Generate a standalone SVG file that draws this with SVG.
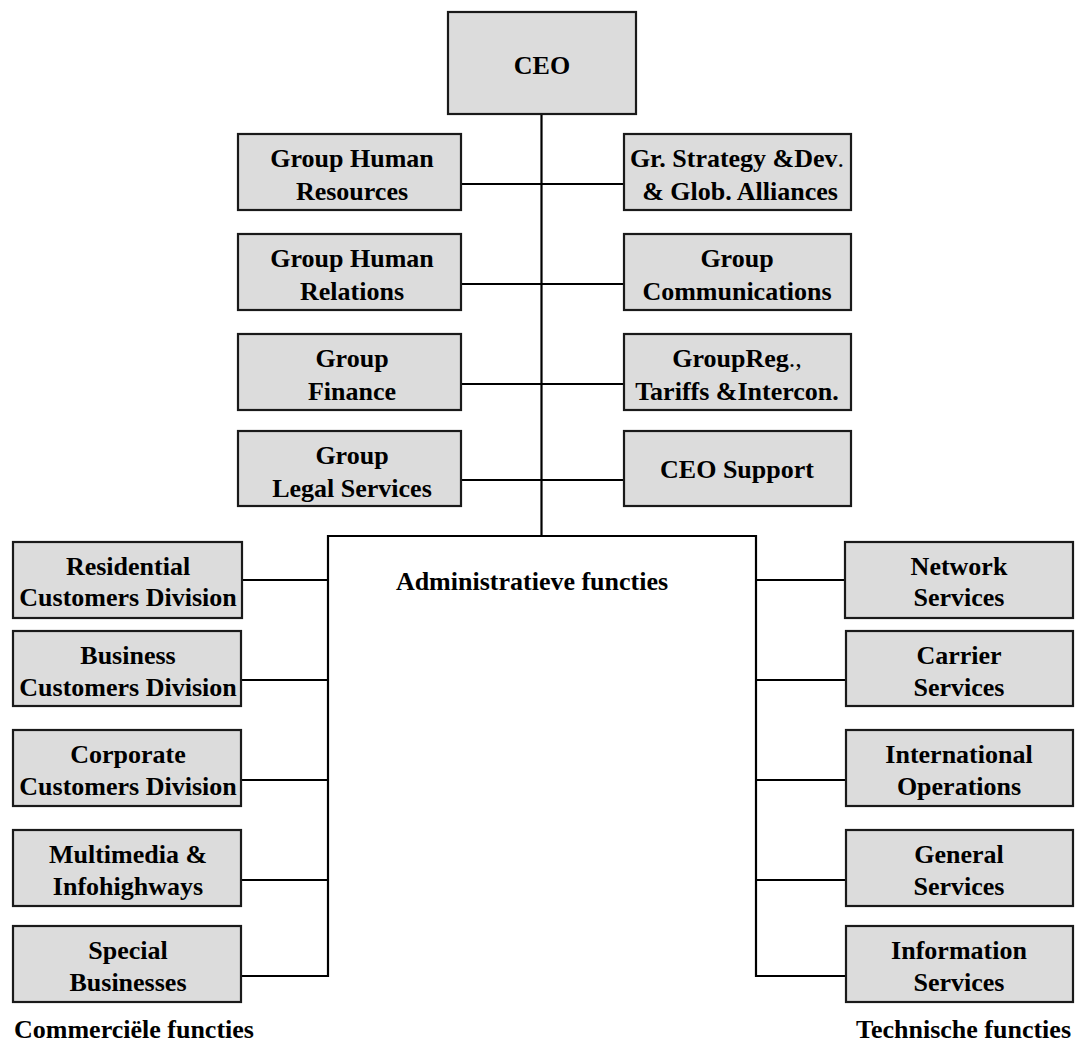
<svg xmlns="http://www.w3.org/2000/svg" width="1075" height="1047" viewBox="0 0 1075 1047">
<style>
.box{fill:#dcdcdc;stroke:#1a1a1a;stroke-width:2.2}
.t{font-family:"Liberation Serif","Times New Roman",serif;font-weight:bold;font-size:26px;fill:#000;text-anchor:middle}
.n{font-weight:normal}
.c{stroke:#000;stroke-width:2.2;fill:none}
.lbl{font-family:"Liberation Serif","Times New Roman",serif;font-weight:bold;font-size:26px;fill:#000}
</style>
<rect width="1075" height="1047" fill="#fff"/>
<g id="connectors">
<path class="c" d="M541.5 114V536M461 184H624M461 284H624M461 384H624M461 480H624M328 536H756M328 535V977M756 535V977M241 580H328M241 680H328M241 780H328M241 880H328M241 976H328M756 580H845M756 680H846M756 780H846M756 880H846M756 976H846"/>
</g>
<g id="ceo"><rect class="box" x="448" y="12" width="188" height="102"/><text class="t" x="542" y="74">CEO</text></g>
<g id="ghr"><rect class="box" x="238" y="134" width="223" height="76"/><text class="t" x="352" y="167">Group Human</text><text class="t" x="352" y="200">Resources</text></g>
<g id="ghrel"><rect class="box" x="238" y="234" width="223" height="76"/><text class="t" x="352" y="267">Group Human</text><text class="t" x="352" y="300">Relations</text></g>
<g id="gfin"><rect class="box" x="238" y="334" width="223" height="76"/><text class="t" x="352" y="367">Group</text><text class="t" x="352" y="400">Finance</text></g>
<g id="glegal"><rect class="box" x="238" y="431" width="223" height="75"/><text class="t" x="352" y="463.5">Group</text><text class="t" x="352" y="496.5">Legal Services</text></g>
<g id="gstrat"><rect class="box" x="624" y="134" width="227" height="76"/><text class="t" x="737" y="167">Gr. Strategy &amp;Dev<tspan class="n">.</tspan></text><text class="t" x="740" y="200">&amp; Glob. Alliances</text></g>
<g id="gcomm"><rect class="box" x="624" y="234" width="227" height="76"/><text class="t" x="737" y="267">Group</text><text class="t" x="737" y="300">Communications</text></g>
<g id="greg"><rect class="box" x="624" y="334" width="227" height="76"/><text class="t" x="737" y="367">GroupReg<tspan class="n">.,</tspan></text><text class="t" x="737" y="400">Tariffs &amp;Intercon.</text></g>
<g id="ceosup"><rect class="box" x="624" y="431" width="227" height="75"/><text class="t" x="737" y="477.5">CEO Support</text></g>
<g id="resid"><rect class="box" x="13" y="542" width="229" height="76"/><text class="t" x="128" y="575">Residential</text><text class="t" x="128" y="606">Customers Division</text></g>
<g id="busin"><rect class="box" x="13" y="631" width="228" height="75"/><text class="t" x="128" y="663.5">Business</text><text class="t" x="128" y="695.5">Customers Division</text></g>
<g id="corp"><rect class="box" x="13" y="730" width="228" height="76"/><text class="t" x="128" y="763">Corporate</text><text class="t" x="128" y="795">Customers Division</text></g>
<g id="multi"><rect class="box" x="13" y="830" width="228" height="76"/><text class="t" x="128" y="863">Multimedia &amp;</text><text class="t" x="128" y="895">Infohighways</text></g>
<g id="special"><rect class="box" x="13" y="926" width="228" height="76"/><text class="t" x="128" y="959">Special</text><text class="t" x="128" y="991">Businesses</text></g>
<g id="network"><rect class="box" x="845" y="542" width="228" height="76"/><text class="t" x="959" y="575">Network</text><text class="t" x="959" y="606">Services</text></g>
<g id="carrier"><rect class="box" x="846" y="631" width="227" height="75"/><text class="t" x="959" y="663.5">Carrier</text><text class="t" x="959" y="695.5">Services</text></g>
<g id="intl"><rect class="box" x="846" y="730" width="227" height="76"/><text class="t" x="959" y="763">International</text><text class="t" x="959" y="795">Operations</text></g>
<g id="general"><rect class="box" x="846" y="830" width="227" height="76"/><text class="t" x="959" y="863">General</text><text class="t" x="959" y="895">Services</text></g>
<g id="info"><rect class="box" x="846" y="926" width="227" height="76"/><text class="t" x="959" y="959">Information</text><text class="t" x="959" y="991">Services</text></g>
<g id="labels">
<text class="t" x="532" y="590">Administratieve functies</text>
<text class="lbl" x="14" y="1038">Commerciële functies</text>
<text class="lbl" x="1071" y="1038" text-anchor="end">Technische functies</text>
</g>
</svg>
